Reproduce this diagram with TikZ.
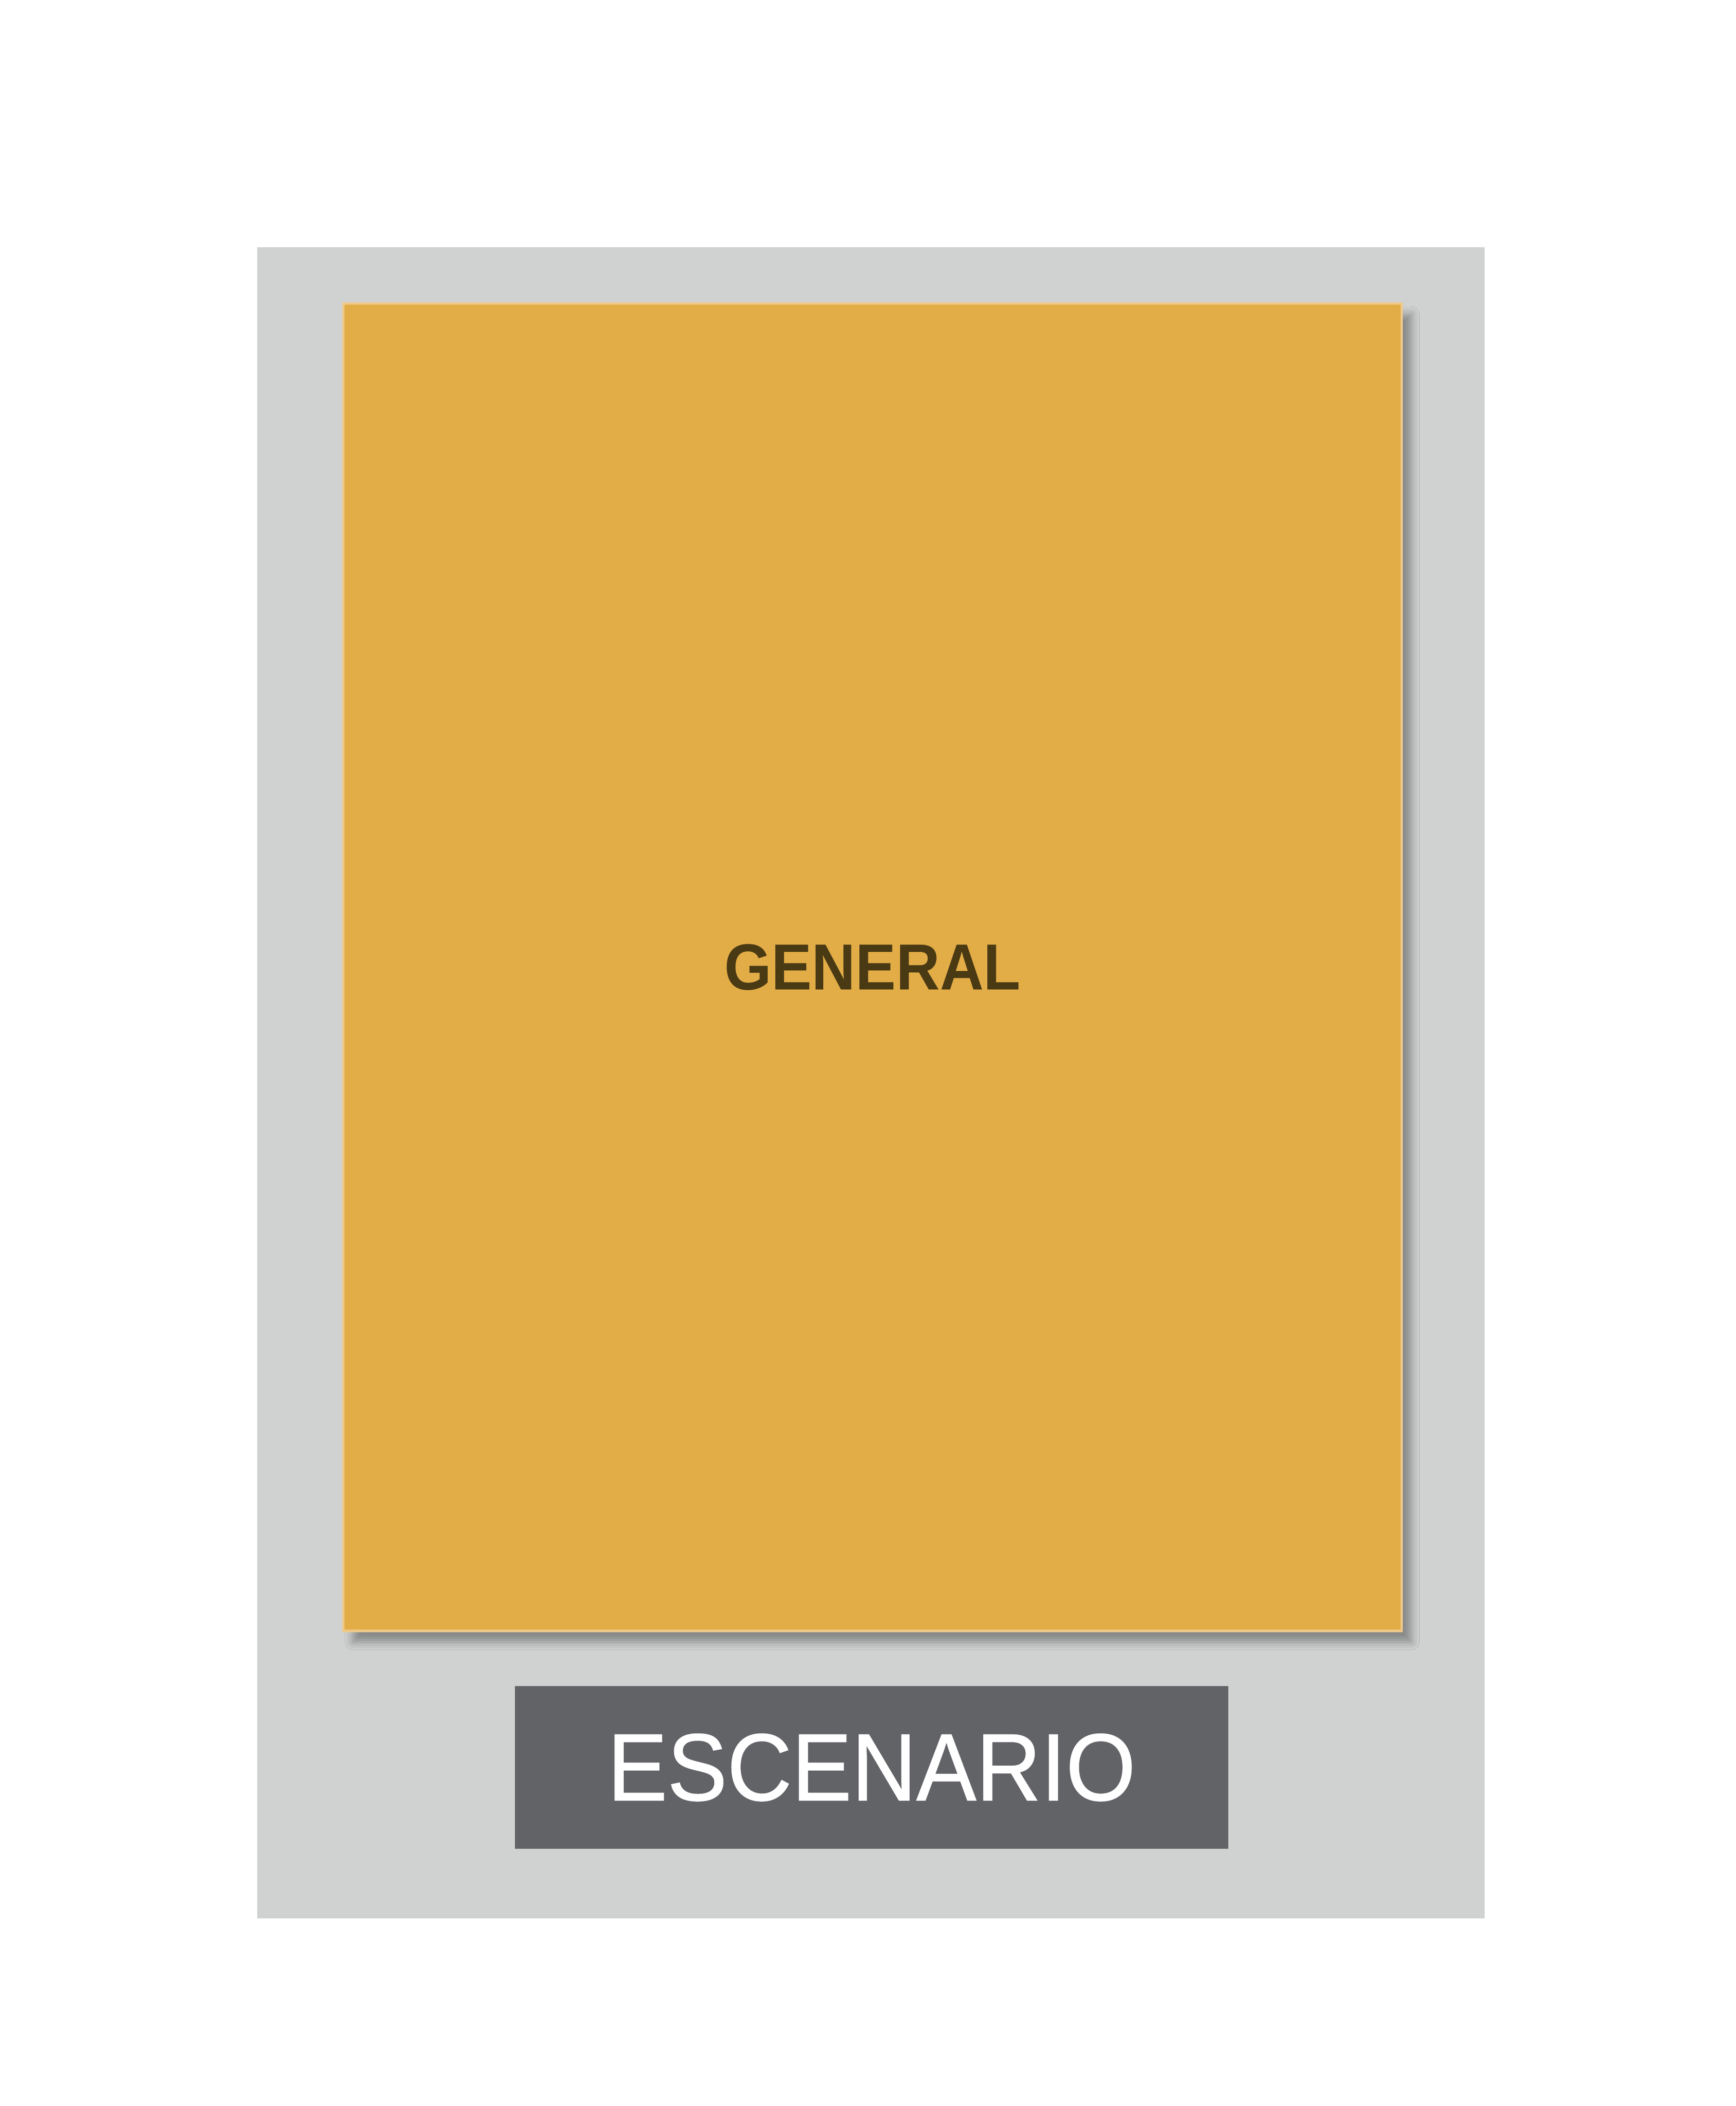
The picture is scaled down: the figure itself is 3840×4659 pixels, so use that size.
\documentclass[tikz,border=0pt]{standalone}
\usepackage{fontspec}
\setmainfont{Liberation Sans}
\newfontfamily\hallfont[FakeStretch=0.93]{Liberation Sans}
\newfontfamily\stagefont[FakeStretch=0.94,FakeBold=0.8]{Liberation Sans}
\usetikzlibrary{shadows.blur}
\definecolor{venuegray}{HTML}{D0D2D1}
\definecolor{hallorange}{HTML}{E2AC46}
\definecolor{hallrim}{HTML}{F0C98A}
\definecolor{stagegray}{HTML}{626367}
\definecolor{halltext}{HTML}{4A3A14}

\begin{document}
\begin{tikzpicture}[x=0.01cm,y=-0.01cm,
	venue_node/.style={rectangle,fill=venuegray,inner sep=0pt,outer sep=0pt,minimum width=27.13cm,minimum height=36.95cm},
	hall_node/.style={rectangle,fill=hallorange,draw=hallrim,line width=1.5pt,inner sep=0pt,outer sep=0pt,minimum width=23.40cm,minimum height=29.35cm,
		blur shadow={shadow xshift=6pt,shadow yshift=-7pt,shadow blur radius=5pt,shadow opacity=35},
		text=halltext,font=\hallfont\bfseries\fontsize{41}{41}\selectfont},
	stage_node/.style={rectangle,fill=stagegray,inner sep=0pt,outer sep=0pt,minimum width=15.78cm,minimum height=3.60cm,
		text=white,font=\stagefont\fontsize{60}{60}\selectfont}]

		\useasboundingbox (0,0) rectangle (3840,4659);
		\fill[white] (0,0) rectangle (3840,4659);

		\node[venue_node] (venue) at (1926.5,2395.5) {};
		\node[hall_node] (general) at (1930,2139.5) {GENERAL};
		\node[stage_node] (stage) at (1928,3910) {ESCENARIO};
		\end{tikzpicture}
\end{document}
